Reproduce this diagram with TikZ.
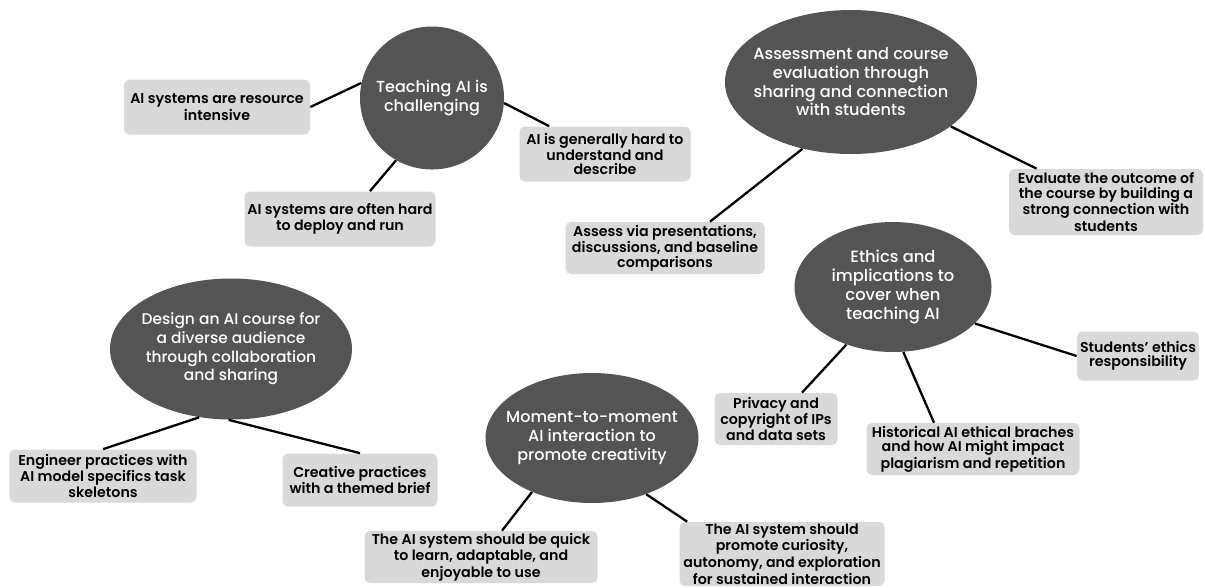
\documentclass[tikz,border=0pt]{standalone}
\usepackage{fontspec}
\setmainfont{Poppins}
\newfontfamily\hubfont{Poppins Medium}
\newfontfamily\leaffont{Poppins SemiBold}
\usetikzlibrary{shapes.geometric}
\definecolor{hubgray}{HTML}{545454}
\definecolor{leafgray}{HTML}{D9D9D9}
\tikzset{
    hub/.style={
        ellipse,fill=hubgray,text=white,
        inner xsep=-7pt,inner ysep=0pt,align=center,
        font=\hubfont\fontsize{9.2}{10.6}\selectfont
    },
    leaf/.style={
        fill=leafgray,rounded corners=3pt,
        inner sep=0pt,align=center,
        font=\leaffont\fontsize{8.1}{8.1}\selectfont
    },
    link/.style={line width=1.3pt}
}

\begin{document}
\begin{tikzpicture}
    \useasboundingbox (0,0) rectangle (24.1,-11.74);
    % topics
    \node[hub,minimum width=2.88cm,minimum height=2.86cm,font=\hubfont\fontsize{9.1}{10.5}\selectfont] (teach) at (8.64,-1.96) {Teaching AI is\\challenging};
    \node[hub,minimum width=5.04cm,minimum height=2.88cm] (assess) at (17.02,-1.64) {Assessment and course\\evaluation through\\sharing and connection\\with students};
    \node[hub,minimum width=4.84cm,minimum height=2.82cm,font=\hubfont\fontsize{8.8}{10.6}\selectfont] (design) at (4.62,-6.98) {Design an AI course for\\a diverse audience\\through collaboration\\and sharing};
    \node[hub,minimum width=4.26cm,minimum height=2.6cm,font=\hubfont\fontsize{9.1}{11}\selectfont] (moment) at (11.84,-8.76) {Moment-to-moment\\AI interaction to\\promote creativity};
    \node[hub,minimum width=3.94cm,minimum height=2.6cm,font=\hubfont\fontsize{9.3}{10.8}\selectfont] (ethics) at (17.86,-5.74) {Ethics and\\implications to\\cover when\\teaching AI};
    % findings
    \node[leaf,minimum width=3.72cm,minimum height=1.1cm] (resource) at (4.34,-2.14) {AI systems are resource\\intensive};
    \node[leaf,minimum width=3.42cm,minimum height=1.1cm] (hard) at (12.1,-3.08) {AI is generally hard to\\understand and\\describe};
    \node[leaf,minimum width=3.82cm,minimum height=1.1cm] (deploy) at (6.8,-4.38) {AI systems are often hard\\to deploy and run};
    \node[leaf,minimum width=3.88cm,minimum height=1.32cm] (outcome) at (22.12,-4.04) {Evaluate the outcome of\\the course by building a\\strong connection with\\students};
    \node[leaf,minimum width=3.98cm,minimum height=1.04cm] (present) at (13.3,-4.96) {Assess via presentations,\\discussions, and baseline\\comparisons};
    \node[leaf,minimum width=3.74cm,minimum height=1.06cm] (engineer) at (2.06,-9.52) {Engineer practices with\\AI model specifics task\\skeletons};
    \node[leaf,minimum width=3.1cm,minimum height=1.06cm] (creative) at (7.2,-9.6) {Creative practices\\with a themed brief};
    \node[leaf,minimum width=4.66cm,minimum height=1.04cm] (quick) at (9.62,-11.14) {The AI system should be quick\\to learn, adaptable, and\\enjoyable to use};
    \node[leaf,minimum width=4.1cm,minimum height=1.28cm] (curious) at (15.64,-11.08) {The AI system should\\promote curiosity,\\autonomy, and exploration\\for sustained interaction};
    \node[leaf,minimum width=2.46cm,minimum height=1.04cm] (privacy) at (15.52,-8.38) {Privacy and\\copyright of IPs\\and data sets};
    \node[leaf,minimum width=4.26cm,minimum height=1.04cm] (history) at (19.46,-8.98) {Historical AI ethical braches\\and how AI might impact\\plagiarism and repetition};
    \node[leaf,minimum width=2.44cm,minimum height=0.98cm] (students) at (22.76,-7.12) {Students’ ethics\\responsibility};
    % links
    \draw[link] (teach.168) -- (resource.east);
    \draw[link] (teach.356) -- ([xshift=0.6cm]hard.north west);
    \draw[link] (teach.240) -- ([xshift=0.6cm]deploy.north);
    \draw[link] (assess.336) -- ([xshift=0.56cm]outcome.north west);
    \draw[link] (assess.234) -- ([xshift=0.9cm]present.north);
    \draw[link] (design.245) -- (engineer.north);
    \draw[link] (design.268) -- (creative.north);
    \draw[link] (moment.222) -- ([xshift=0.42cm]quick.north);
    \draw[link] (moment.314) -- ([xshift=0.16cm]curious.north west);
    \draw[link] (ethics.231) -- ([xshift=0.52cm]privacy.north);
    \draw[link] (ethics.279) -- ([xshift=-0.78cm]history.north);
    \draw[link] (ethics.336) -- (students.west);
\end{tikzpicture}
\end{document}
